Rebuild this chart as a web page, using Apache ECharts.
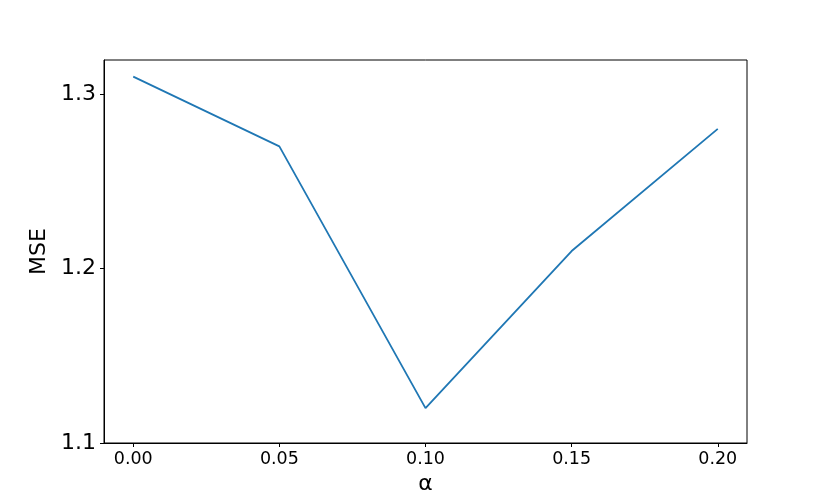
<!DOCTYPE html>
<html>
<head>
<meta charset="utf-8">
<script src="https://cdn.jsdelivr.net/npm/echarts@6/dist/echarts.min.js"></script>
<style>html,body{margin:0;padding:0;background:#fff}#c{width:830px;height:498px}</style>
</head>
<body>
<div id="c"></div>
<script>
var alphas = [0.00, 0.05, 0.10, 0.15, 0.20];
var mse = [1.31, 1.27, 1.12, 1.21, 1.28];
var xTicks = [0.00, 0.05, 0.10, 0.15, 0.20];
var yTicks = [1.1, 1.2, 1.3];

var font = 'DejaVu Sans';
var chart = echarts.init(document.getElementById('c'), null, {renderer: 'canvas'});
chart.setOption({
  animation: false,
  backgroundColor: '#fff',
  grid: {left: 104, right: 83, top: 60, bottom: 55, show: true, borderColor: '#000', borderWidth: 1,
    outerBoundsMode: 'none', containLabel: false},
  xAxis: {
    type: 'value', min: -0.01, max: 0.21,
    name: 'α', nameLocation: 'middle', nameGap: 28,
    nameTextStyle: {fontFamily: font, fontSize: 22, color: '#000'},
    axisLine: {show: true, onZero: false, lineStyle: {color: '#000', width: 1}},
    axisTick: {show: true, length: 4, customValues: xTicks, lineStyle: {color: '#000'}},
    axisLabel: {customValues: xTicks, fontFamily: font, fontSize: 17.5, color: '#000', margin: 7,
      formatter: function (v) { return v.toFixed(2); }},
    splitLine: {show: false}
  },
  yAxis: {
    type: 'value', min: 1.1, max: 1.3195,
    name: 'MSE', nameLocation: 'middle', nameGap: 45,
    nameTextStyle: {fontFamily: font, fontSize: 22, color: '#000'},
    axisLine: {show: true, onZero: false, lineStyle: {color: '#000', width: 1}},
    axisTick: {show: true, length: 4, customValues: yTicks, lineStyle: {color: '#000'}},
    axisLabel: {customValues: yTicks, fontFamily: font, fontSize: 22, color: '#000', margin: 8,
      formatter: function (v) { return v.toFixed(1); }},
    splitLine: {show: false}
  },
  series: [{
    type: 'line',
    data: alphas.map(function (a, i) { return [a, mse[i]]; }),
    showSymbol: false,
    lineStyle: {color: '#1f77b4', width: 1.8},
    itemStyle: {color: '#1f77b4'}
  }]
});
</script>
</body>
</html>
